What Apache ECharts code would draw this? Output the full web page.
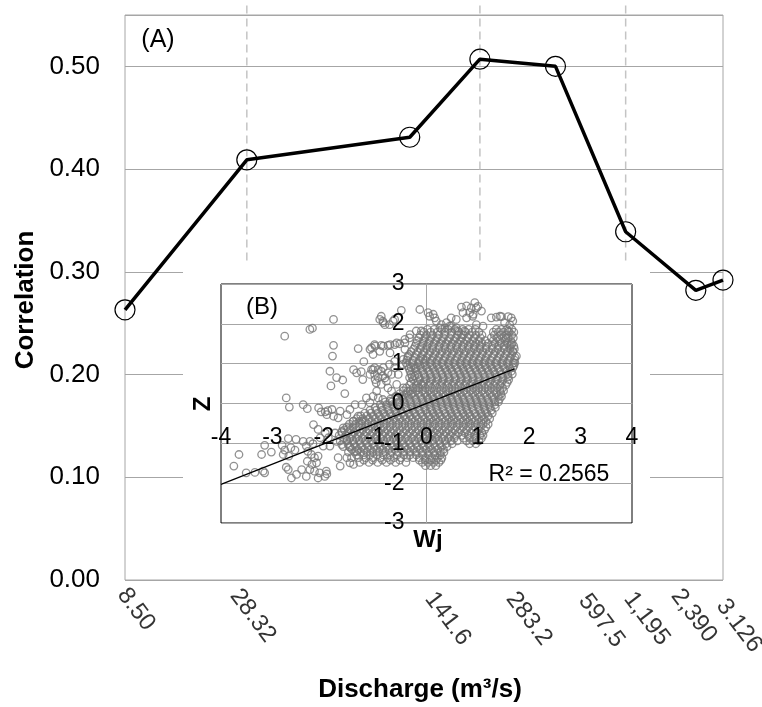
<!DOCTYPE html>
<html><head><meta charset="utf-8">
<script src="https://cdn.jsdelivr.net/npm/echarts@6/dist/echarts.min.js"></script>
<style>html,body{margin:0;padding:0;background:#fff}#c{width:762px;height:707px}</style>
</head><body><div id="c"></div>
<script>
// ---------- DATA ----------
const discharge = [8.5, 28.32, 141.6, 283.2, 597.5, 1195, 2390, 3126];
const correlation = [0.263, 0.409, 0.431, 0.507, 0.500, 0.339, 0.282, 0.292];
const dischargeTickLabels = ['8.50', '28.32', '141.6', '283.2', '597.5', '1,195', '2,390', '3.126'];
const guideDischarge = [28.32, 283.2, 1195];
const guideCorrRange = [0.311, 0.560];
const trendWj = [-4, 1.71];
const trendZ = [-2.03, 0.87];
const rSquaredText = 'R\u00B2 = 0.2565';

// inset (B): scattered points [Wj, Z]
const sparsePoints = [
 [-3.75,-1.57],[-3.65,-1.28],[-3.51,-1.74],[-3.34,-1.73],[-3.18,-1.70],[-3.15,-1.74],[-3.21,-1.28],[-3.15,-1.05],[-3.02,-1.22],
 [-2.81,-1.05],[-2.76,-1.17],[-2.79,-1.28],[-2.69,-0.88],[-2.64,-1.11],[-2.68,-1.32],[-2.54,-0.90],[-2.56,-1.17],
 [-2.73,-1.60],[-2.69,-1.66],[-2.53,-1.78],[-2.63,-1.87],
 [-2.40,-0.95],[-2.34,-1.07],[-2.27,-0.95],[-2.21,-1.01],[-2.31,-1.20],[-2.24,-1.28],[-2.18,-1.36],[-2.11,-1.32],[-2.32,-1.45],
 [-2.23,-1.53],[-2.14,-1.49],[-2.27,-1.66],[-2.18,-1.70],[-2.08,-1.74],[-2.11,-1.87],[-2.34,-1.83],[-2.43,-1.66],
 [-1.95,-1.70],[-1.98,-1.83],[-1.94,-1.77],[-1.68,-1.57],[-1.72,-1.36],[-1.55,-1.36],[-1.49,-1.49],[-1.42,-1.53],[-1.49,-1.10],
 [-1.36,-1.20],[-1.55,-0.90],[-1.65,-1.03],
 [-2.20,-0.53],[-2.11,-0.65],[-1.97,-0.74],[-2.07,-0.86],[-1.91,-0.86],[-1.78,-0.74],[-1.75,-0.95],[-1.88,-1.07],[-2.01,-1.07],
 [-1.65,-0.70],[-1.62,-0.61],[-1.52,-0.63],[-1.42,-0.44],[-1.33,-0.32],[-1.26,-0.44],
 [-2.76,1.69],[-2.27,1.86],[-2.22,1.89],[-1.81,2.11],[-1.81,1.46],[-1.83,1.19],[-1.88,0.81],[-1.75,0.65],[-1.63,0.59],[-1.86,0.44],[-1.59,0.25],
 [-1.33,1.38],[-1.22,1.05],[-1.42,0.85],[-1.36,0.77],[-1.24,0.60],
 [-2.73,0.14],[-2.67,-0.09],[-2.40,-0.03],[-2.32,-0.13],[-2.10,-0.11],[-2.05,-0.21],[-1.97,-0.21],[-1.92,-0.18],[-1.84,-0.15],
 [-1.81,-0.32],[-1.94,-0.28],[-1.72,-0.36],[-1.55,-0.28],[-1.49,-0.15],[-1.39,-0.03],[-1.68,-0.19],
 [-0.88,2.19],[-0.85,2.07],[-0.81,1.98],[-0.72,1.98],[-0.65,2.07],[-0.49,2.34],[-0.91,2.11],
 [-1.27,0.80],[-1.07,1.40],[-1.01,1.48],[-0.88,1.46],[-0.75,1.46],[-0.62,1.48],[-0.52,1.50],[-0.42,1.52],[-0.33,1.65],[-0.20,1.82],[-0.10,1.82],
 [-1.07,0.85],[-1.01,0.90],[-0.94,0.85],[-0.88,0.81],[-1.01,0.73],[-0.94,0.65],[-0.85,0.69],[-0.75,0.77],[-0.78,0.56],[-0.88,0.48],[-0.98,0.52],
 [-0.72,0.98],[-0.62,0.90],[-0.55,0.73],[-0.68,0.31],[-0.75,0.39],[-0.94,0.14],[-0.85,0.10],
 [-0.42,1.36],[-0.36,1.19],[-0.46,0.98],[-0.30,0.90],[-0.33,0.65],[-0.23,0.69],[-0.36,0.31],[-0.30,0.23],[-0.17,0.39],[-0.10,0.48],[-0.20,0.90],[-0.07,1.11],
 [-0.13,2.36],[0.03,2.28],[0.13,2.24],[-0.84,2.03],[-0.62,2.11],
 [0.68,2.42],[0.78,2.45],[0.94,2.53],[0.97,2.40],[0.91,2.24],[0.71,2.28],[0.78,2.15],[1.00,2.44],[0.87,2.40],[1.07,2.32],[0.84,2.28],[0.90,2.19],
 [1.26,2.15],[1.36,2.17],[1.46,2.18],[1.59,2.18],[1.65,2.15],[1.68,2.07],[1.62,1.98],[1.52,2.03],[1.43,2.19],
 [1.10,1.94],[0.97,1.98],[0.45,1.94],[0.36,1.90],[0.26,1.90],[0.58,2.11],
 [0.06,2.19],[0.16,2.15],[0.19,2.07],[0.29,1.98],[0.39,2.03],[0.48,1.94],[0.58,1.90],[0.48,2.15],[0.61,1.82],[0.68,1.73],[0.74,1.82],
 [1.59,1.82],[1.55,1.65],[1.65,1.48],[1.68,1.31],[1.75,1.19],[1.72,1.02],[1.68,0.90],
 [-0.32,1.73],[-0.42,1.61],[-0.58,1.52],[-0.71,1.48],[-0.84,1.44],[-1.00,1.44],[-1.10,1.36],[-1.04,1.23],[-0.91,1.31],[-0.71,1.27],
 [-0.62,1.06],[-0.45,1.11],[-0.84,0.90],[-1.04,0.85],[-1.10,0.73],[-1.00,0.60],[-0.81,0.64],[-0.68,0.73],
 [-0.58,0.48],[-0.45,0.39],[-0.97,0.31],[-1.04,0.18],[-1.17,0.14],[-1.10,0.02],[-1.26,-0.03],[-0.71,0.06],[-0.58,0.18]
];

// inset (B): dense part of the cloud, read row by row [Z, [Wj ...]]
const denseRows = [
 [1.86, [0.02,0.15,0.30,0.42,0.55,0.70,0.82,0.95,1.36,1.46,1.56,1.66]],
 [1.79, [-0.05,0.08,0.21,0.36,0.49,0.63,0.76,0.89,1.02,1.30,1.40,1.50,1.61,1.70]],
 [1.72, [-0.12,0.00,0.12,0.24,0.36,0.48,0.60,0.72,0.84,0.96,1.08,1.32,1.44,1.55,1.66]],
 [1.65, [-0.15,-0.03,0.09,0.21,0.33,0.45,0.57,0.69,0.81,0.93,1.05,1.26,1.37,1.48,1.59,1.69]],
 [1.58, [-0.18,-0.06,0.06,0.18,0.30,0.42,0.54,0.66,0.78,0.90,1.02,1.14,1.30,1.42,1.53,1.64]],
 [1.51, [-0.20,-0.07,0.04,0.15,0.27,0.38,0.50,0.61,0.73,0.85,0.96,1.08,1.20,1.33,1.45,1.57,1.67]],
 [1.44, [-0.22,-0.10,0.01,0.12,0.24,0.35,0.47,0.58,0.70,0.81,0.93,1.04,1.16,1.28,1.40,1.51,1.62,1.70]],
 [1.37, [-0.25,-0.12,0.00,0.12,0.24,0.36,0.47,0.59,0.70,0.82,0.93,1.04,1.16,1.28,1.39,1.51,1.62,1.71]],
 [1.30, [-0.30,-0.17,-0.05,0.07,0.18,0.30,0.41,0.53,0.64,0.76,0.87,0.99,1.10,1.22,1.34,1.45,1.57,1.68]],
 [1.23, [-0.33,-0.20,-0.08,0.04,0.16,0.27,0.39,0.50,0.62,0.73,0.85,0.96,1.08,1.19,1.31,1.43,1.54,1.66]],
 [1.16, [-0.36,-0.23,-0.11,0.01,0.13,0.24,0.36,0.47,0.59,0.70,0.82,0.93,1.05,1.16,1.28,1.40,1.51,1.63,1.72]],
 [1.09, [-0.38,-0.26,-0.14,-0.02,0.10,0.21,0.33,0.45,0.56,0.68,0.79,0.91,1.02,1.14,1.25,1.37,1.49,1.60,1.71]],
 [1.02, [-0.40,-0.28,-0.16,-0.05,0.07,0.18,0.30,0.42,0.53,0.65,0.76,0.88,0.99,1.11,1.22,1.34,1.46,1.57,1.69]],
 [0.95, [-0.37,-0.25,-0.13,-0.02,0.10,0.21,0.33,0.44,0.56,0.68,0.79,0.91,1.02,1.14,1.25,1.37,1.49,1.60,1.70]],
 [0.88, [-0.34,-0.22,-0.10,0.01,0.13,0.24,0.36,0.47,0.59,0.71,0.82,0.94,1.05,1.17,1.28,1.40,1.52,1.63]],
 [0.81, [-0.32,-0.20,-0.08,0.04,0.16,0.27,0.39,0.50,0.62,0.73,0.85,0.97,1.08,1.20,1.31,1.43,1.55,1.65]],
 [0.74, [-0.30,-0.17,-0.05,0.07,0.18,0.30,0.42,0.53,0.65,0.76,0.88,1.00,1.11,1.23,1.34,1.46,1.58,1.67]],
 [0.67, [-0.28,-0.15,-0.03,0.09,0.20,0.32,0.43,0.55,0.67,0.78,0.90,1.01,1.13,1.24,1.36,1.48,1.59]],
 [0.60, [-0.26,-0.13,-0.01,0.10,0.22,0.33,0.45,0.57,0.68,0.80,0.91,1.03,1.14,1.26,1.38,1.49,1.60]],
 [0.53, [-0.30,-0.17,-0.05,0.07,0.19,0.30,0.42,0.53,0.65,0.77,0.88,1.00,1.11,1.23,1.34,1.46,1.57]],
 [0.46, [-0.33,-0.20,-0.08,0.04,0.16,0.27,0.39,0.50,0.62,0.74,0.85,0.97,1.08,1.20,1.31,1.43,1.54]],
 [0.39, [-0.39,-0.26,-0.14,-0.02,0.10,0.21,0.33,0.44,0.56,0.68,0.79,0.91,1.02,1.14,1.26,1.37,1.48]],
 [0.32, [-0.45,-0.32,-0.20,-0.08,0.04,0.15,0.27,0.38,0.50,0.62,0.73,0.85,0.96,1.08,1.20,1.31,1.43,1.50]],
 [0.25, [-0.52,-0.39,-0.27,-0.15,-0.03,0.09,0.20,0.32,0.43,0.55,0.66,0.78,0.90,1.01,1.13,1.24,1.36,1.45]],
 [0.18, [-0.60,-0.47,-0.35,-0.23,-0.11,0.01,0.12,0.24,0.36,0.47,0.59,0.70,0.82,0.94,1.05,1.17,1.28,1.40,1.46]],
 [0.11, [-0.70,-0.57,-0.45,-0.33,-0.21,-0.09,0.03,0.14,0.26,0.38,0.49,0.61,0.72,0.84,0.96,1.07,1.19,1.31,1.42]],
 [0.04, [-0.80,-0.67,-0.55,-0.43,-0.31,-0.19,-0.07,0.05,0.16,0.28,0.40,0.51,0.63,0.74,0.86,0.98,1.09,1.21,1.33,1.40]],
 [-0.03, [-0.90,-0.78,-0.66,-0.54,-0.42,-0.30,-0.18,-0.06,0.06,0.18,0.29,0.41,0.52,0.64,0.76,0.87,0.99,1.11,1.22,1.33]],
 [-0.10, [-1.00,-0.88,-0.76,-0.64,-0.52,-0.40,-0.28,-0.16,-0.04,0.08,0.19,0.31,0.43,0.54,0.66,0.77,0.89,1.01,1.12,1.24,1.34]],
 [-0.17, [-1.10,-0.98,-0.86,-0.74,-0.62,-0.50,-0.38,-0.26,-0.14,-0.02,0.10,0.21,0.33,0.45,0.56,0.68,0.79,0.91,1.03,1.14,1.26]],
 [-0.24, [-1.20,-1.08,-0.95,-0.83,-0.71,-0.59,-0.47,-0.35,-0.23,-0.11,0.01,0.13,0.24,0.36,0.48,0.59,0.71,0.82,0.94,1.06,1.17,1.28]],
 [-0.31, [-1.28,-1.16,-1.04,-0.92,-0.80,-0.68,-0.56,-0.44,-0.32,-0.20,-0.08,0.04,0.16,0.27,0.39,0.50,0.62,0.74,0.85,0.97,1.08,1.20]],
 [-0.38, [-1.36,-1.24,-1.12,-1.00,-0.88,-0.76,-0.64,-0.52,-0.40,-0.28,-0.16,-0.04,0.08,0.19,0.31,0.43,0.54,0.66,0.78,0.89,1.01,1.12,1.23]],
 [-0.45, [-1.43,-1.31,-1.19,-1.07,-0.95,-0.83,-0.71,-0.59,-0.47,-0.35,-0.23,-0.11,0.01,0.13,0.24,0.36,0.48,0.59,0.71,0.82,0.94,1.06,1.16]],
 [-0.52, [-1.50,-1.38,-1.26,-1.14,-1.02,-0.90,-0.78,-0.66,-0.54,-0.42,-0.30,-0.18,-0.06,0.06,0.17,0.29,0.41,0.52,0.64,0.76,0.87,0.99,1.10,1.20]],
 [-0.59, [-1.55,-1.43,-1.31,-1.19,-1.07,-0.95,-0.83,-0.71,-0.59,-0.47,-0.35,-0.23,-0.11,0.01,0.12,0.24,0.36,0.47,0.59,0.71,0.82,0.94,1.05,1.16]],
 [-0.66, [-1.60,-1.48,-1.36,-1.24,-1.12,-1.00,-0.88,-0.76,-0.64,-0.52,-0.40,-0.28,-0.16,-0.04,0.08,0.20,0.31,0.43,0.55,0.66,0.78,0.90,1.01,1.13]],
 [-0.73, [-1.65,-1.53,-1.41,-1.29,-1.17,-1.05,-0.93,-0.81,-0.69,-0.57,-0.45,-0.33,-0.21,-0.09,0.03,0.15,0.26,0.38,0.50,0.62,0.74,0.86,0.97,1.08]],
 [-0.80, [-1.70,-1.57,-1.45,-1.33,-1.21,-1.09,-0.97,-0.85,-0.73,-0.61,-0.49,-0.37,-0.25,-0.13,-0.01,0.11,0.22,0.34,0.46,0.57,0.69,0.81,0.93,1.04,1.10]],
 [-0.87, [-1.60,-1.49,-1.37,-1.25,-1.13,-1.01,-0.89,-0.77,-0.65,-0.53,-0.41,-0.29,-0.17,-0.05,0.06,0.18,0.30,0.42,0.54,0.72,0.84,0.96,1.07]],
 [-0.94, [-1.68,-1.55,-1.43,-1.31,-1.19,-1.07,-0.95,-0.83,-0.71,-0.59,-0.47,-0.35,-0.23,-0.11,0.01,0.12,0.24,0.36,0.48,0.60,0.78,0.90,1.02]],
 [-1.01, [-1.53,-1.41,-1.29,-1.17,-1.05,-0.93,-0.81,-0.69,-0.57,-0.45,-0.33,-0.21,-0.09,0.03,0.14,0.26,0.38,0.50,0.84,0.96]],
 [-1.08, [-1.62,-1.50,-1.38,-1.26,-1.14,-1.02,-0.90,-0.78,-0.66,-0.54,-0.42,-0.30,-0.18,-0.06,0.06,0.17,0.29,0.40]],
 [-1.15, [-1.45,-1.33,-1.21,-1.09,-0.97,-0.85,-0.73,-0.61,-0.49,-0.37,-0.25,-0.13,-0.01,0.10,0.22,0.33]],
 [-1.22, [-1.52,-1.40,-1.28,-1.16,-1.04,-0.92,-0.80,-0.68,-0.56,-0.44,-0.32,-0.20,-0.08,0.04,0.15,0.27,0.34]],
 [-1.29, [-1.36,-1.22,-1.10,-0.97,-0.84,-0.71,-0.57,-0.44,-0.32,-0.20,-0.08,0.04,0.16,0.27]],
 [-1.36, [-1.46,-1.32,-1.18,-1.04,-0.90,-0.76,-0.63,-0.50,-0.38,-0.26,-0.14,-0.02,0.10,0.21,0.30]],
 [-1.42, [-1.22,-1.05,-0.86,-0.70,-0.52,-0.14,-0.03,0.08,0.19,0.28]],
 [-1.48, [-1.30,-1.12,-0.95,-0.78,-0.60,-0.40,-0.08,0.03,0.14,0.24]],
 [-1.56, [-0.02,0.08,0.18]]
];

// ---------- LAYOUT / STYLE ----------
const FONT = '"Liberation Sans", Arial, sans-serif';
const GRID_GRAY = '#a6a6a6';
const tickLabelPos = [[7,4],[-2,5],[30,8],[41,8],[38,10],[13,8],[-10,5],[8,15]];

const insetPoints = sparsePoints.concat(
  denseRows.reduce((acc, row) => acc.concat(row[1].map(x => [x, row[0]])), [])
);

const chart = echarts.init(document.getElementById('c'), null, {renderer: 'canvas'});

const guideSeries = guideDischarge.map(d => ({
  type: 'line', xAxisIndex: 0, yAxisIndex: 0, clip: false, silent: true, symbol: 'none', z: 1,
  data: [[d, guideCorrRange[0]], [d, guideCorrRange[1]]],
  lineStyle: {color: '#c4c4c4', width: 1.5, type: [8, 5]}
}));

const option = {
  animation: false,
  backgroundColor: '#fff',
  textStyle: {fontFamily: FONT},
  grid: [
    {left: 125, top: 15, width: 598, height: 565, show: true, borderColor: GRID_GRAY, borderWidth: 1, backgroundColor: 'transparent'},
    {left: 221, top: 284, width: 411, height: 239, show: true, borderColor: '#000', borderWidth: 1, backgroundColor: 'transparent', z: 2}
  ],
  xAxis: [
    {gridIndex: 0, type: 'log', logBase: 10, min: 8.5, max: 3126,
     axisLine: {show: false}, axisTick: {show: false}, axisLabel: {show: false}, splitLine: {show: false}},
    {gridIndex: 1, type: 'value', min: -4, max: 4, interval: 1, position: 'bottom', z: 3,
     axisLine: {show: true, onZero: true, lineStyle: {color: GRID_GRAY, width: 1}},
     axisTick: {show: false}, axisLabel: {show: false}, splitLine: {show: false}},
    {gridIndex: 1, type: 'value', min: -4, max: 4, interval: 1, position: 'bottom', offset: -119, z: 6,
     axisLine: {show: false, onZero: false},
     axisTick: {show: false}, splitLine: {show: false},
     axisLabel: {show: true, margin: 22, fontSize: 23, color: '#000', fontFamily: FONT, showMinLabel: true, showMaxLabel: true}}
  ],
  yAxis: [
    {gridIndex: 0, type: 'value', min: 0, max: 0.55, interval: 0.1,
     axisLine: {show: false}, axisTick: {show: false},
     axisLabel: {margin: 25, fontSize: 26, color: '#000', fontFamily: FONT,
       formatter: v => (v > 0.505 ? '' : v.toFixed(2))},
     splitLine: {show: true, lineStyle: {color: GRID_GRAY, width: 1}}},
    {gridIndex: 1, type: 'value', min: -3, max: 3, interval: 1, position: 'left', z: 3,
     axisLine: {show: true, onZero: true, lineStyle: {color: GRID_GRAY, width: 1}},
     axisTick: {show: false}, axisLabel: {show: false},
     splitLine: {show: true, lineStyle: {color: GRID_GRAY, width: 1}}},
    {gridIndex: 1, type: 'value', min: -3, max: 3, interval: 1, position: 'left', offset: -205.5, z: 6,
     axisLine: {show: false, onZero: false},
     axisTick: {show: false}, splitLine: {show: false},
     axisLabel: {show: true, margin: 22, fontSize: 23, color: '#000', fontFamily: FONT, showMinLabel: true, showMaxLabel: true}}
  ],
  graphic: [
    {type: 'rect', z: 1, silent: true, shape: {x: 183, y: 265, width: 467, height: 293}, style: {fill: '#fff'}},
    {type: 'text', z: 10, x: 26, y: 300, rotation: Math.PI / 2,
     style: {text: 'Correlation', font: 'bold 26px ' + FONT, fill: '#000', align: 'center', verticalAlign: 'middle', textAlign: 'center', textVerticalAlign: 'middle'}},
    {type: 'text', z: 10, x: 420, y: 690,
     style: {text: 'Discharge (m\u00B3/s)', font: 'bold 26px ' + FONT, fill: '#000', align: 'center', verticalAlign: 'middle', textAlign: 'center', textVerticalAlign: 'middle'}},
    {type: 'text', z: 10, x: 158, y: 40,
     style: {text: '(A)', font: '25px ' + FONT, fill: '#000', align: 'center', verticalAlign: 'middle', textAlign: 'center', textVerticalAlign: 'middle'}},
    {type: 'text', z: 10, x: 262, y: 307,
     style: {text: '(B)', font: '24px ' + FONT, fill: '#000', align: 'center', verticalAlign: 'middle', textAlign: 'center', textVerticalAlign: 'middle'}},
    {type: 'text', z: 10, x: 203, y: 404, rotation: Math.PI / 2,
     style: {text: 'Z', font: 'bold 24px ' + FONT, fill: '#000', align: 'center', verticalAlign: 'middle', textAlign: 'center', textVerticalAlign: 'middle'}},
    {type: 'text', z: 10, x: 428, y: 540,
     style: {text: 'Wj', font: 'bold 24px ' + FONT, fill: '#000', align: 'center', verticalAlign: 'middle', textAlign: 'center', textVerticalAlign: 'middle'}},
    {type: 'text', z: 10, x: 549, y: 475,
     style: {text: rSquaredText, font: '23px ' + FONT, fill: '#000', align: 'center', verticalAlign: 'middle', textAlign: 'center', textVerticalAlign: 'middle'}}
  ],
  series: guideSeries.concat([
    {type: 'line', xAxisIndex: 0, yAxisIndex: 0, clip: false, z: 3,
     data: discharge.map((d, i) => [d, correlation[i]]),
     symbol: 'circle', symbolSize: 20,
     itemStyle: {color: 'rgba(0,0,0,0)', borderColor: '#000', borderWidth: 1.2},
     lineStyle: {color: '#000', width: 3.5}},
    {type: 'scatter', xAxisIndex: 0, yAxisIndex: 0, clip: false, silent: true, z: 5,
     symbol: 'circle', symbolSize: 1, itemStyle: {color: 'rgba(0,0,0,0)'},
     data: discharge.map((d, i) => ({value: [d, 0], label: {position: tickLabelPos[i]}})),
     label: {show: true, formatter: p => dischargeTickLabels[p.dataIndex], rotate: -53,
       align: 'left', verticalAlign: 'top', fontSize: 24, color: '#000', fontFamily: FONT}},
    {type: 'scatter', xAxisIndex: 1, yAxisIndex: 1, z: 4, silent: true, large: false, progressive: 0,
     symbol: 'circle', symbolSize: 7.5,
     itemStyle: {color: 'rgba(0,0,0,0)', borderColor: '#767676', borderWidth: 1.3},
     data: insetPoints},
    {type: 'line', xAxisIndex: 1, yAxisIndex: 1, z: 5, silent: true, symbol: 'none',
     data: trendWj.map((w, i) => [w, trendZ[i]]),
     lineStyle: {color: '#000', width: 1.2}}
  ])
};
chart.setOption(option);
</script>
</body></html>
